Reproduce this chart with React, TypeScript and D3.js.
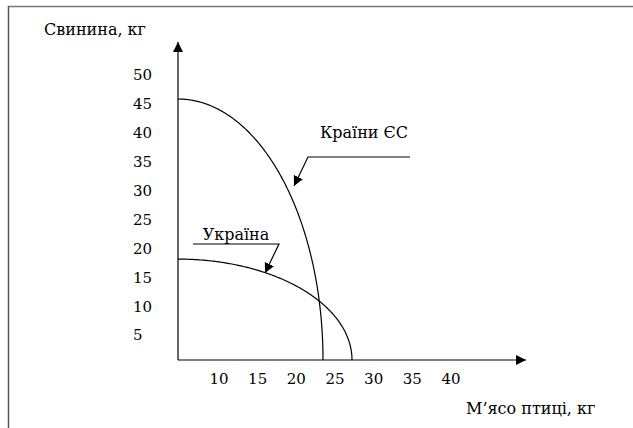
import React from "react";
import * as d3 from "d3";

const yTicks = [5, 10, 15, 20, 25, 30, 35, 40, 45, 50];
const xTicks = [10, 15, 20, 25, 30, 35, 40];
// production possibility frontiers: [poultry intercept, pork intercept]
const seriesNames = ["Країни ЄС", "Україна"];
const poultryMax = [24, 28.8];
const porkMax = [45, 17.4];
const yTitle = "Свинина, кг";
const xTitle = "М’ясо птиці, кг";

const W = 633;
const H = 428;
const FONT = '"DejaVu Serif", serif';

export default function App() {
  const ox = 178;
  const oy = 360;
  const x = d3.scaleLinear().domain([0, 24]).range([ox, 323]);
  const y = d3.scaleLinear().domain([0, 45]).range([oy, 99]);
  const xl = d3.scaleLinear().domain([10, 40]).range([219, 451]);
  const yl = d3.scaleLinear().domain([5, 50]).range([335, 75]);

  const line = d3.line<[number, number]>().x(d => x(d[0])).y(d => y(d[1]));
  const curves = seriesNames.map((_, i) => {
    const pts: [number, number][] = d3.range(0, 201).map(k => {
      const t = (k / 200) * Math.PI / 2;
      return [poultryMax[i] * Math.sin(t), porkMax[i] * Math.cos(t)];
    });
    return line(pts) || "";
  });

  const ts: React.CSSProperties = { fontFamily: FONT, fontSize: 16 };
  const tn: React.CSSProperties = { fontFamily: FONT, fontSize: 15 };

  return (
    <svg width={W} height={H} style={{ position: "absolute", left: 0, top: 0 }}>
      <defs>
        <marker id="ah" markerWidth="12" markerHeight="12" refX="10" refY="5" orient="auto" markerUnits="userSpaceOnUse">
          <path d="M0,0 L10,5 L0,10 Z" fill="#000" />
        </marker>
      </defs>
      <rect x={0} y={0} width={W} height={H} fill="#fff" />
      <line x1={8.5} y1={6.5} x2={W} y2={6.5} stroke="#777" strokeWidth={1.5} />
      <line x1={8.5} y1={6} x2={8.5} y2={H} stroke="#555" strokeWidth={1.5} />

      <line x1={ox} y1={oy} x2={ox} y2={42} stroke="#000" strokeWidth={1.2} markerEnd="url(#ah)" />
      <line x1={ox} y1={oy} x2={526} y2={oy} stroke="#000" strokeWidth={1.2} markerEnd="url(#ah)" />

      {yTicks.map(v => (
        <text key={v} x={133} y={yl(v)} dy="0.36em" style={tn}>{v}</text>
      ))}
      {xTicks.map(v => (
        <text key={v} x={xl(v)} y={384} textAnchor="middle" style={tn}>{v}</text>
      ))}
      <text x={44} y={35} style={ts}>{yTitle}</text>
      <text x={466} y={414} style={ts}>{xTitle}</text>

      {curves.map((d, i) => (
        <path key={i} d={d} fill="none" stroke="#000" strokeWidth={1.2} />
      ))}

      <text x={364} y={138} textAnchor="middle" style={ts}>{seriesNames[0]}</text>
      <polyline points="410,157 308,157 294,186" fill="none" stroke="#000" strokeWidth={1.2} markerEnd="url(#ah)" />
      <text x={236} y={240} textAnchor="middle" style={ts}>{seriesNames[1]}</text>
      <polyline points="193,244 279,244 265,273" fill="none" stroke="#000" strokeWidth={1.2} markerEnd="url(#ah)" />
    </svg>
  );
}
